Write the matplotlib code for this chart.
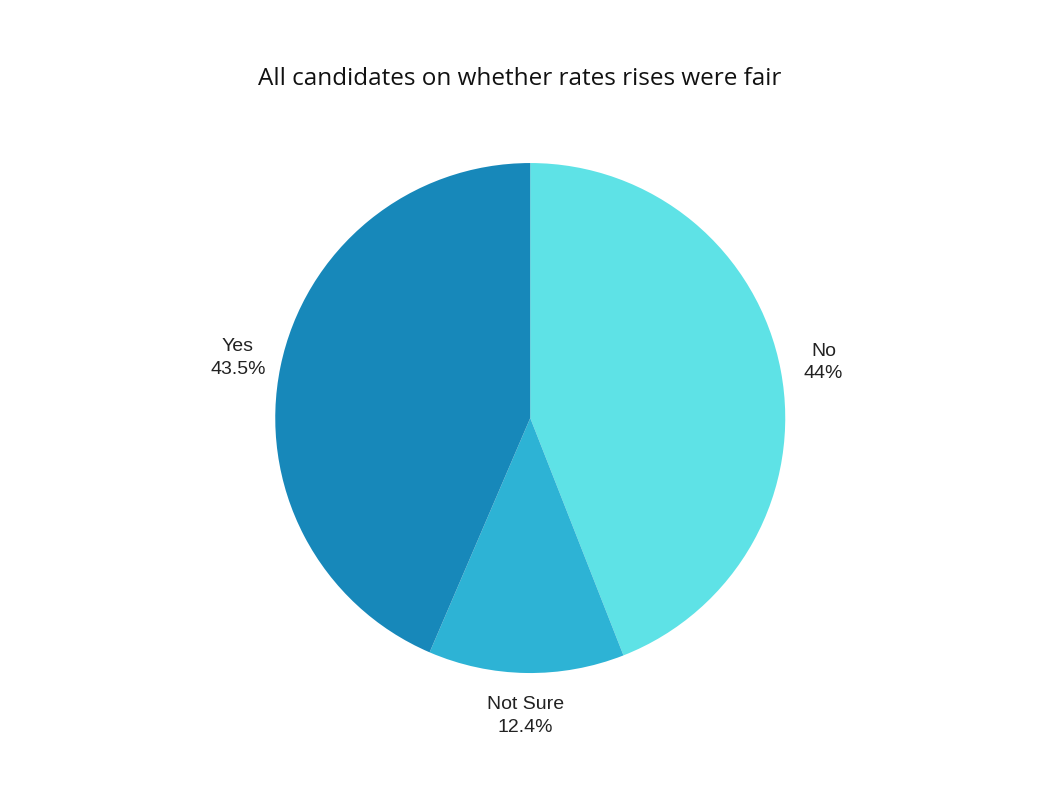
import matplotlib.pyplot as plt

labels = ['No', 'Not Sure', 'Yes']
values = [44, 12.4, 43.5]
pct_text = ['44%', '12.4%', '43.5%']
colors = ['#5ee2e6', '#2db3d5', '#1788ba']

fig = plt.figure(figsize=(10.5, 7.88), dpi=100)
ax = fig.add_axes([0.505 - 0.243, 0.4695 - 0.3236, 0.486, 0.6472])
wedges, texts = ax.pie(values, colors=colors, startangle=90, counterclock=False,
                       labels=[f'{l}\n{p}' for l, p in zip(labels, pct_text)],
                       labeldistance=1.17,
                       textprops=dict(fontsize=14, family='Liberation Sans', color='#222222',
                                      linespacing=1.45))
for t in texts:
    t.set_ha('center')
    t.set_va('center')
ax.set_xlim(-1, 1)
ax.set_ylim(-1, 1)
ax.set_aspect('equal')
fig.text(0.495, 0.9, 'All candidates on whether rates rises were fair', ha='center', va='center',
         fontsize=17.5, family='Open Sans', color='#111111')
fig.savefig('out.png', dpi=100)
